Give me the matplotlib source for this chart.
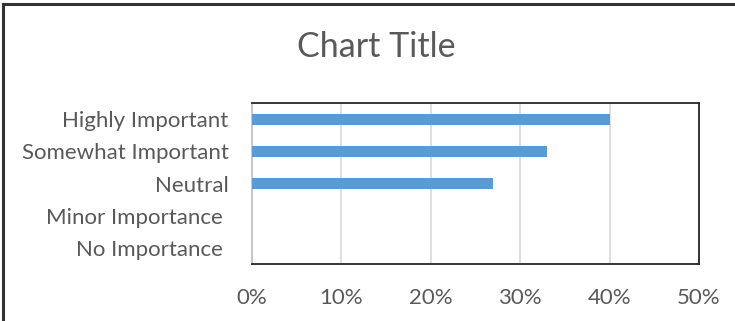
import matplotlib
matplotlib.use("Agg")
import matplotlib.pyplot as plt
from matplotlib.lines import Line2D
from matplotlib.ticker import FuncFormatter

categories = ["Highly Important", "Somewhat Important", "Neutral", "Minor Importance ", "No Importance "]
values = [0.40, 0.33, 0.27, 0.0, 0.0]
xticks = [0, 0.1, 0.2, 0.3, 0.4, 0.5]
title = "Chart Title"

plt.rcParams['font.family'] = ['Lato', 'DejaVu Sans']
W, H = 735, 321
fig = plt.figure(figsize=(W / 100, H / 100), dpi=100)
ax = fig.add_axes([252 / W, 1 - 264 / H, (699 - 252) / W, (264 - 103) / H])

ypos = list(range(len(categories)))
ax.barh(ypos, values, height=0.34, color="#5B9BD5", zorder=3)
ax.set_ylim(len(categories) - 0.5, -0.5)
ax.set_yticks(ypos)
ax.set_yticklabels(categories, fontsize=16, color="#595959")
ax.set_xlim(0, 0.5)
ax.set_xticks(xticks)
ax.xaxis.set_major_formatter(FuncFormatter(lambda v, p: f"{v*100:.0f}%"))
ax.tick_params(axis='x', labelsize=16, labelcolor="#595959", length=0, pad=17)
ax.tick_params(axis='y', length=0, pad=17)
ax.grid(axis='x', color="#D9D9D9", linewidth=1.2, zorder=0)
for s in ['top', 'right', 'bottom']:
    ax.spines[s].set_color("#262626")
    ax.spines[s].set_linewidth(1.3)
ax.spines['left'].set_color("#BFBFBF")
ax.spines['left'].set_linewidth(1.2)

fig.text(376 / W, 1 - 47 / H, title, ha='center', va='center', fontsize=24.5, color="#595959")

# outer frame (top and left visible)
fig.add_artist(Line2D([3 / W, 1], [1 - 4 / H, 1 - 4 / H], color="#333333", linewidth=2.2, transform=fig.transFigure))
fig.add_artist(Line2D([3 / W, 3 / W], [0, 1 - 4 / H], color="#333333", linewidth=2.2, transform=fig.transFigure))

fig.savefig("out.png", dpi=100)
